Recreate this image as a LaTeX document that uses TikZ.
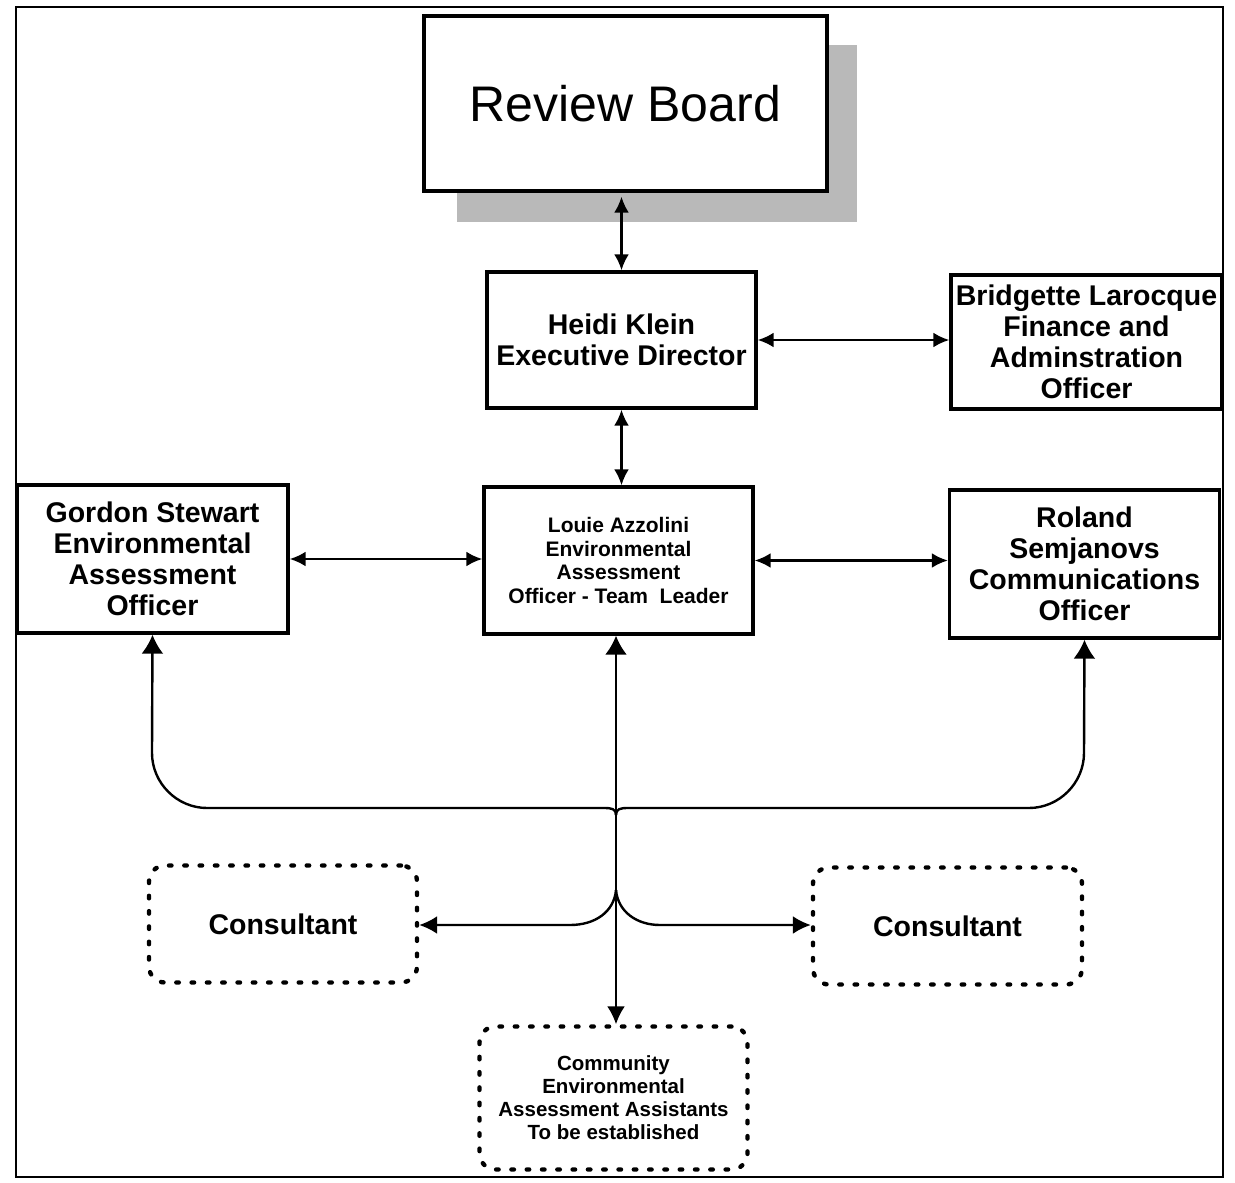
\documentclass[tikz,border=0pt]{standalone}
\usepackage{fontspec}
\setmainfont{Liberation Sans}
\usetikzlibrary{arrows.meta}
\tikzset{
  boxnode/.style={draw=black, line width=3.4pt, fill=white, align=center, inner sep=0pt},
  dotbox/.style={draw=black, line width=4.4pt, dash pattern=on 2.5pt off 12.8pt, line cap=round, rounded corners=16pt, align=center, inner sep=0pt},
  conn/.style={line width=2.4pt},
  tipS/.tip={Latex[length=16pt,width=15pt]},
  tipM/.tip={Latex[length=18pt,width=18pt]},
  tipB/.tip={Latex[length=19pt,width=22pt]},
  bigtxt/.style={font=\fontsize{28.5}{31.2}\selectfont\bfseries},
  smalltxt/.style={font=\fontsize{21}{23.6}\selectfont\bfseries},
  tinytxt/.style={font=\fontsize{20.5}{23}\selectfont\bfseries}
}
\begin{document}
\begin{tikzpicture}[x=1pt,y=-1pt]
\useasboundingbox (0,0) rectangle (1235,1183);
\draw[line width=2pt] (16,7) rectangle (1223,1177);
% review board with shadow
\fill[gray!55] (457,45) rectangle (857,222);
\node[boxnode, minimum width=403pt, minimum height=175pt, font=\fontsize{50}{55}\selectfont] (review) at (625.5,103.5) {Review Board};
% boxes
\node[boxnode, bigtxt, minimum width=269pt, minimum height=136pt] (heidi) at (621.5,340) {Heidi Klein\\Executive Director};
\node[boxnode, bigtxt, minimum width=271pt, minimum height=134pt] (bridgette) at (1086.5,342) {Bridgette Larocque\\Finance and\\Adminstration\\Officer};
\node[boxnode, bigtxt, minimum width=271pt, minimum height=148pt] (gordon) at (152.5,559) {Gordon Stewart\\Environmental\\Assessment\\Officer};
\node[boxnode, smalltxt, minimum width=269pt, minimum height=147pt] (louie) at (618.5,560.5) {Louie Azzolini\\Environmental\\Assessment\\Officer - Team\ \ Leader};
\node[boxnode, bigtxt, minimum width=270pt, minimum height=148pt] (roland) at (1084.5,564) {Roland\\Semjanovs\\Communications\\Officer};
\node[dotbox, bigtxt, minimum width=268pt, minimum height=117pt] (consL) at (283,924) {Consultant};
\node[dotbox, bigtxt, minimum width=269pt, minimum height=117pt] (consR) at (947.5,926) {Consultant};
\node[dotbox, tinytxt, minimum width=268pt, minimum height=143pt] (community) at (613.5,1098) {Community\\Environmental\\Assessment Assistants\\To be established};
% junction points
\coordinate (jt) at (616,815);
\coordinate (jb) at (616,890);
% connectors
\draw[conn, {tipS}-{tipS}] (heidi.north |- review.south) ++(0,4) -- (heidi.north);
\draw[conn, {tipS}-{tipS}] (heidi.east) -- (bridgette.west |- heidi.east);
\draw[conn, {tipS}-{tipS}] (heidi.south) -- (heidi.south |- louie.north);
\draw[conn, {tipS}-{tipS}] (gordon.east) -- (gordon.east -| louie.west);
\draw[conn, {tipS}-{tipS}] (louie.east) -- (louie.east -| roland.west);
\draw[conn, {tipB}-{tipM}] (louie.south -| jt) -- (community.north -| jt);
\draw[conn, -{tipB}] (jt) .. controls (616,809) and (612,808) .. (604,808) -- (207,808) .. controls (177,808) and (152,783) .. (152,753) -- (gordon.south);
\draw[conn, -{tipB}] (jt) .. controls (616,809) and (620,808) .. (628,808) -- (1029,808) .. controls (1059,808) and (1084,783) .. (1084,753) -- (roland.south);
\draw[conn, -{tipM}] (jb) .. controls (614,912) and (595,925) .. (570,925) -- (consL.east |- 0,925);
\draw[conn, -{tipM}] (jb) .. controls (618,912) and (637,925) .. (660,925) -- (consR.west |- 0,925);
\end{tikzpicture}
\end{document}
